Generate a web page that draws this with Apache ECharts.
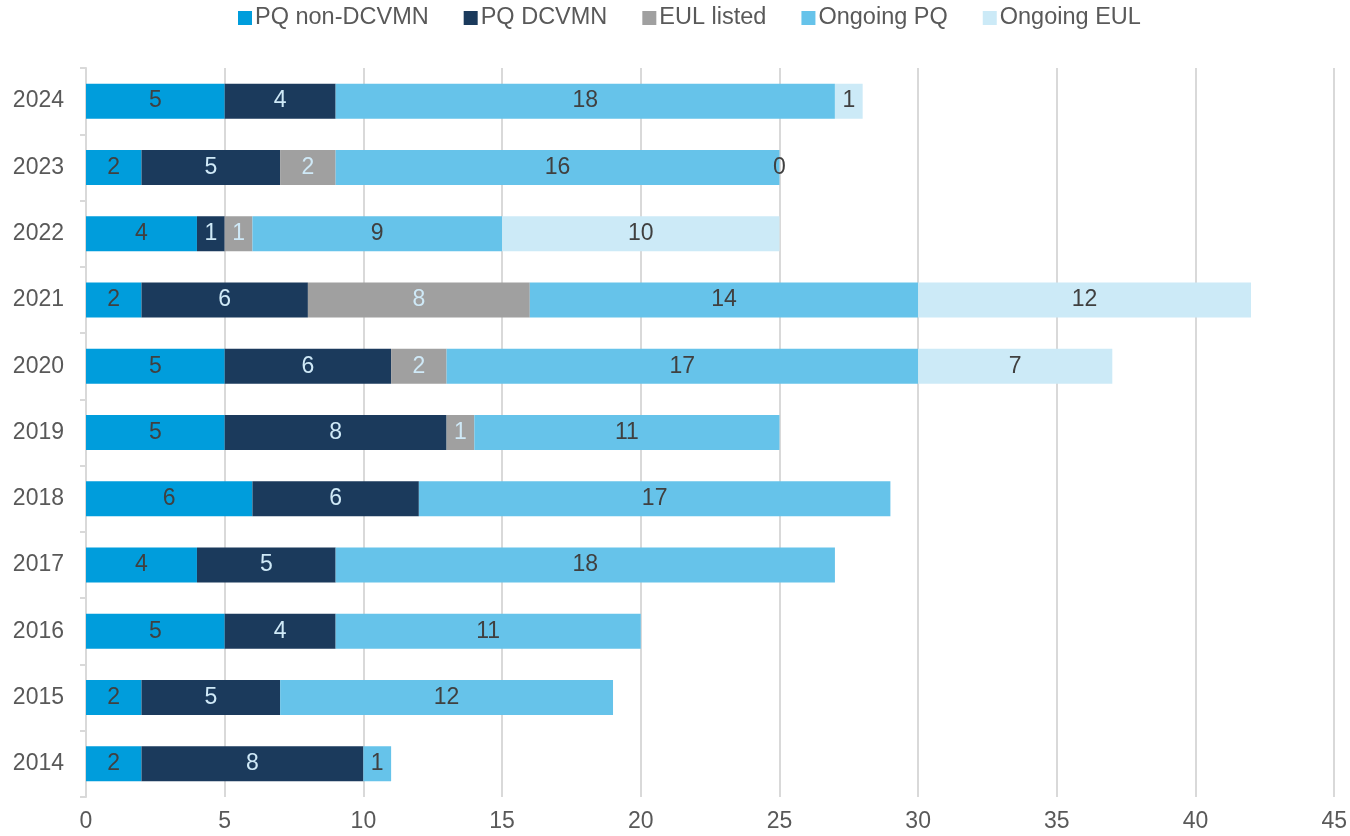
<!DOCTYPE html>
<html><head><meta charset="utf-8">
<script src="https://cdn.jsdelivr.net/npm/echarts@6/dist/echarts.min.js"></script>
<style>html,body{margin:0;padding:0;background:#fff}#c{width:1350px;height:836px}</style>
</head><body><div id="c"></div>
<script>
const years = ['2014','2015','2016','2017','2018','2019','2020','2021','2022','2023','2024'];
const pqNonDCVMN = [2,2,5,4,6,5,5,2,4,2,5];
const pqDCVMN = [8,5,4,5,6,8,6,6,1,5,4];
const eulListed = [null,null,null,null,null,1,2,8,1,2,null];
const ongoingPQ = [1,12,11,18,17,11,17,14,9,16,18];
const ongoingEUL = [null,null,null,null,null,null,7,12,10,0,1];
const xTicks = [0,5,10,15,20,25,30,35,40,45];

const font = '"Liberation Sans", Arial, sans-serif';
function s(name, data, color, labelColor){
  return {name, type:'bar', stack:'t', data, barWidth:35,
    itemStyle:{color},
    label:{show:true, position:'inside', color:labelColor, fontSize:23, fontFamily:font,
      formatter:p=> (p.value===null||p.value===undefined||p.value==='-')?'':String(p.value)}};
}
const chart = echarts.init(document.getElementById('c'));
chart.setOption({
  animation:false,
  textStyle:{fontFamily:font},
  legend:{top:1, left:233, itemWidth:14, itemHeight:14, itemGap:35, icon:'rect',
    textStyle:{fontSize:23.5, color:'#595959', fontFamily:font, padding:[0,0,0,-2]}},
  grid:{left:86, right:14, top:68, bottom:39, containLabel:false},
  xAxis:{type:'value', min:0, max:45, interval:5,
    axisLine:{show:false}, axisTick:{show:false},
    splitLine:{lineStyle:{color:'#d9d9d9', width:2}},
    axisLabel:{fontSize:23, color:'#595959', margin:13, fontFamily:font,
      formatter:v=> xTicks.includes(v)?String(v):''}},
  yAxis:{type:'category', data:years,
    axisLine:{lineStyle:{color:'#d9d9d9', width:2}},
    axisTick:{show:true, length:6, lineStyle:{color:'#d9d9d9', width:2}},
    axisLabel:{fontSize:23, color:'#595959', margin:22, fontFamily:font}},
  series:[
    s('PQ non-DCVMN', pqNonDCVMN, '#009ddc', '#404040'),
    s('PQ DCVMN', pqDCVMN, '#1b3a5c', '#cfe9f7'),
    s('EUL listed', eulListed, '#a0a0a0', '#cfe9f7'),
    s('Ongoing PQ', ongoingPQ, '#66c3ea', '#404040'),
    s('Ongoing EUL', ongoingEUL, '#cceaf7', '#404040')
  ]
});
</script></body></html>
